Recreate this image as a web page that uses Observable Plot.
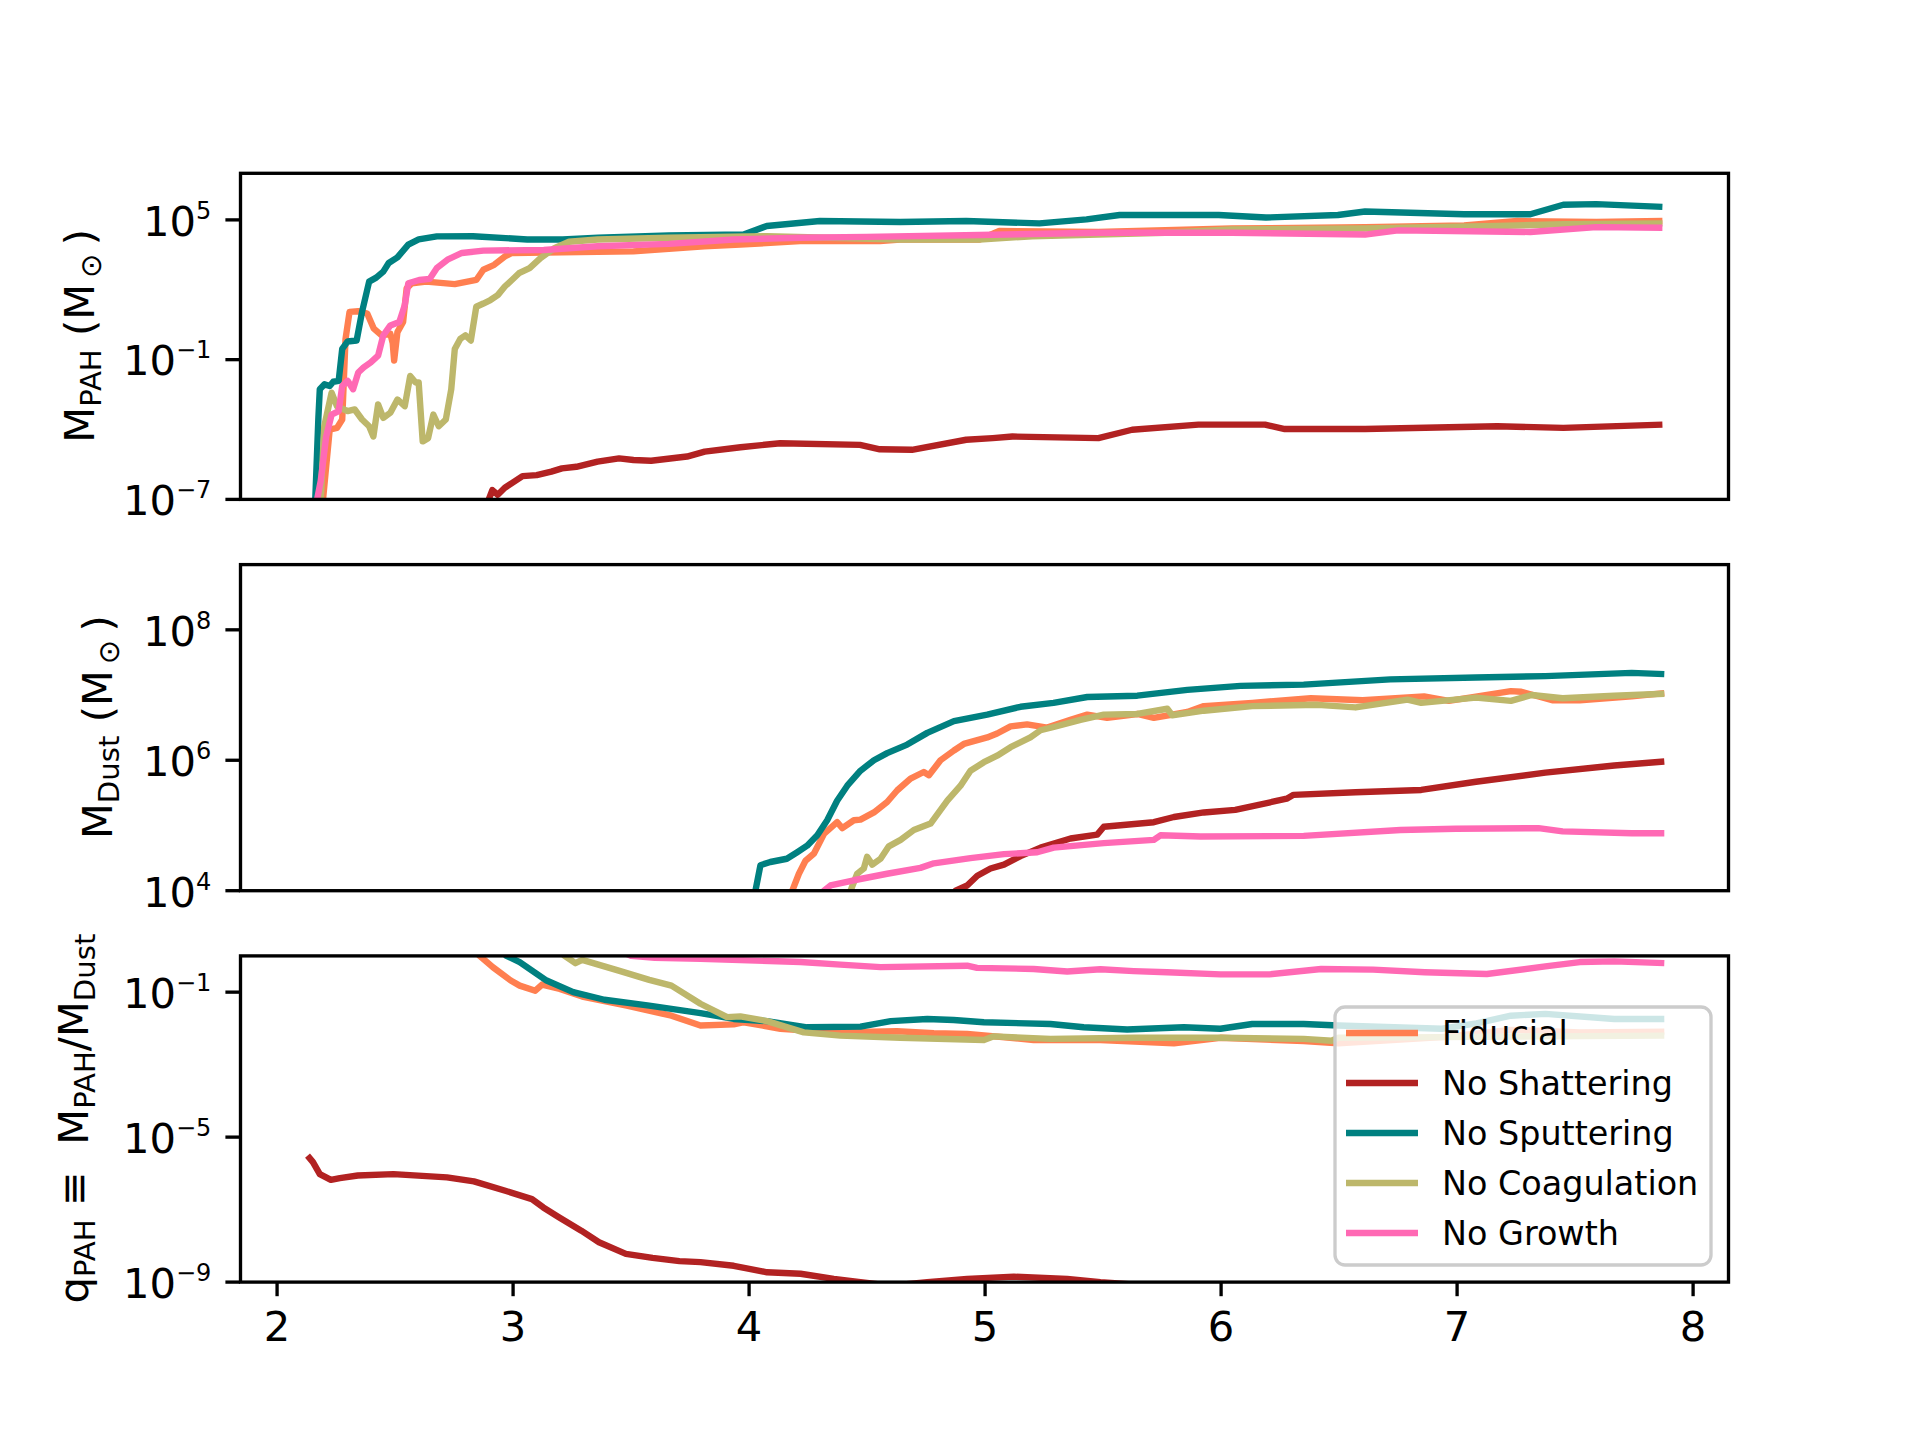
<!DOCTYPE html>
<html>
<head>
<meta charset="utf-8">
<script src="https://cdn.jsdelivr.net/npm/d3@7"></script>
<script src="https://cdn.jsdelivr.net/npm/@observablehq/plot@0.6"></script>
<style>
  html, body { margin: 0; padding: 0; background: white; }
  #chart { position: relative; width: 1920px; height: 1440px; background: white; }
  #chart svg { position: absolute; left: 0; top: 0; }
</style>
</head>
<body>
<div id="chart"></div>
<script>
// ---- series metadata ----
const seriesNames = ["Fiducial", "No Shattering", "No Sputtering", "No Coagulation", "No Growth"];
const seriesColors = ["#FF7F50", "#B22222", "#008080", "#BDB76B", "#FF69B4"];

// ---- axis ticks ----
const xTicks = [2, 3, 4, 5, 6, 7, 8];
const pahTicks = [1e-7, 1e-1, 1e5];
const dustTicks = [1e4, 1e6, 1e8];
const qTicks = [1e-9, 1e-5, 1e-1];

// ---- panel 1: log10 M_PAH vs x ----
const pahFiducial = [[2.19,-7.5],[2.223,-4.0],[2.254,-3.93],[2.276,-3.57],[2.29,-0.11],[2.307,1.05],[2.344,1.08],[2.382,0.98],[2.41,0.33],[2.443,0.04],[2.48,0.11],[2.49,-0.3],[2.496,-1.04],[2.51,0.18],[2.534,0.62],[2.549,2.06],[2.571,2.28],[2.632,2.35],[2.753,2.24],[2.844,2.42],[2.874,2.86],[2.92,3.07],[2.965,3.43],[2.995,3.58],[3.207,3.61],[3.51,3.65],[3.81,3.87],[3.963,3.94],[4.216,4.09],[4.554,4.09],[4.64,4.16],[4.976,4.16],[5.06,4.52],[5.48,4.48],[6.045,4.63],[6.61,4.69],[7.03,4.76],[7.255,4.95],[7.59,4.91],[7.87,4.95]];
const pahNoShattering = [[2.89,-7.5],[2.897,-7.0],[2.912,-6.6],[2.935,-6.8],[2.965,-6.5],[2.995,-6.3],[3.04,-6.0],[3.10,-5.96],[3.162,-5.81],[3.207,-5.67],[3.268,-5.6],[3.358,-5.38],[3.449,-5.24],[3.51,-5.31],[3.585,-5.34],[3.737,-5.16],[3.812,-4.95],[3.964,-4.76],[4.132,-4.59],[4.47,-4.66],[4.554,-4.85],[4.69,-4.87],[4.92,-4.44],[5.032,-4.37],[5.116,-4.30],[5.48,-4.37],[5.623,-4.01],[5.904,-3.79],[6.186,-3.79],[6.27,-3.98],[6.61,-3.98],[7.17,-3.86],[7.45,-3.93],[7.87,-3.79]];
const pahNoSputtering = [[2.16,-7.5],[2.175,-3.5],[2.181,-2.27],[2.201,-2.06],[2.223,-2.13],[2.238,-1.95],[2.261,-1.91],[2.276,-0.54],[2.299,-0.22],[2.337,-0.18],[2.36,1.05],[2.39,2.35],[2.42,2.52],[2.45,2.78],[2.473,3.15],[2.51,3.39],[2.556,3.94],[2.60,4.16],[2.677,4.29],[2.83,4.30],[3.06,4.16],[3.21,4.16],[3.36,4.23],[3.66,4.33],[3.977,4.37],[4.075,4.74],[4.30,4.95],[4.64,4.91],[4.92,4.95],[5.23,4.85],[5.43,5.02],[5.57,5.21],[5.99,5.21],[6.19,5.10],[6.495,5.21],[6.61,5.36],[7.03,5.24],[7.31,5.24],[7.45,5.65],[7.59,5.675],[7.87,5.56]];
const pahNoCoagulation = [[2.18,-7.5],[2.185,-7.0],[2.2,-3.86],[2.231,-2.42],[2.254,-3.0],[2.299,-3.21],[2.329,-3.14],[2.36,-3.57],[2.39,-3.86],[2.408,-4.3],[2.428,-2.92],[2.45,-3.5],[2.48,-3.28],[2.51,-2.71],[2.541,-3.0],[2.564,-1.7],[2.587,-1.98],[2.60,-1.98],[2.617,-4.51],[2.64,-4.37],[2.662,-3.36],[2.685,-3.86],[2.715,-3.57],[2.738,-2.27],[2.753,-0.54],[2.776,-0.11],[2.798,0.04],[2.821,-0.18],[2.844,1.27],[2.874,1.41],[2.904,1.56],[2.935,1.77],[2.965,2.14],[2.995,2.42],[3.025,2.71],[3.07,2.93],[3.116,3.36],[3.177,3.80],[3.237,4.06],[3.358,4.16],[3.66,4.23],[4.075,4.30],[4.64,4.16],[4.976,4.16],[5.2,4.30],[5.764,4.45],[6.045,4.59],[6.61,4.63],[7.17,4.74],[7.45,4.81],[7.87,4.85]];
const pahNoGrowth = [[2.16,-7.5],[2.185,-6.2],[2.208,-4.3],[2.231,-3.36],[2.261,-3.21],[2.276,-2.13],[2.299,-1.91],[2.322,-2.27],[2.344,-1.55],[2.367,-1.33],[2.397,-1.12],[2.428,-0.83],[2.45,0.04],[2.48,0.47],[2.518,0.62],[2.541,1.34],[2.556,2.28],[2.602,2.42],[2.647,2.47],[2.677,2.93],[2.722,3.29],[2.783,3.58],[2.874,3.68],[3.13,3.71],[3.358,3.87],[3.66,3.97],[3.935,4.16],[4.216,4.23],[4.497,4.27],[4.976,4.35],[5.48,4.45],[6.045,4.45],[6.61,4.37],[6.75,4.55],[7.31,4.48],[7.59,4.69],[7.87,4.66]];

// ---- panel 2: log10 M_Dust vs x ----
const dustFiducial = [[4.17,3.5],[4.183,4.0],[4.211,4.26],[4.239,4.46],[4.275,4.57],[4.317,4.87],[4.373,5.05],[4.395,4.96],[4.444,5.08],[4.472,5.09],[4.529,5.20],[4.585,5.36],[4.628,5.54],[4.684,5.72],[4.74,5.82],[4.762,5.77],[4.811,6.0],[4.868,6.15],[4.91,6.25],[5.009,6.35],[5.051,6.41],[5.108,6.52],[5.178,6.55],[5.263,6.50],[5.362,6.62],[5.433,6.70],[5.517,6.65],[5.645,6.71],[5.715,6.65],[5.857,6.74],[5.927,6.83],[6.132,6.88],[6.38,6.95],[6.6,6.92],[6.86,6.98],[6.965,6.91],[7.228,7.06],[7.272,7.05],[7.403,6.92],[7.52,6.92],[7.74,6.98],[7.878,7.03]];
const dustNoShattering = [[4.86,3.5],[4.875,4.0],[4.924,4.08],[4.967,4.23],[5.023,4.34],[5.08,4.40],[5.15,4.53],[5.235,4.66],[5.362,4.80],[5.475,4.86],[5.503,4.98],[5.715,5.05],[5.8,5.13],[5.927,5.20],[6.06,5.24],[6.278,5.41],[6.307,5.47],[6.57,5.51],[6.848,5.545],[7.08,5.67],[7.374,5.81],[7.666,5.92],[7.878,5.98]];
const dustNoSputtering = [[4.02,3.0],[4.027,4.0],[4.048,4.39],[4.09,4.44],[4.16,4.49],[4.204,4.59],[4.246,4.69],[4.289,4.85],[4.331,5.08],[4.373,5.38],[4.416,5.61],[4.472,5.84],[4.529,6.0],[4.585,6.11],[4.67,6.24],[4.755,6.42],[4.868,6.60],[5.009,6.70],[5.15,6.82],[5.29,6.88],[5.433,6.97],[5.645,6.99],[5.857,7.08],[6.082,7.14],[6.35,7.16],[6.717,7.24],[7.08,7.27],[7.374,7.29],[7.74,7.34],[7.878,7.32]];
const dustNoCoagulation = [[4.42,3.5],[4.43,4.0],[4.458,4.26],[4.486,4.34],[4.5,4.52],[4.522,4.40],[4.557,4.49],[4.592,4.68],[4.642,4.78],[4.698,4.93],[4.769,5.03],[4.84,5.38],[4.896,5.61],[4.938,5.84],[4.995,5.97],[5.051,6.07],[5.108,6.20],[5.192,6.35],[5.235,6.46],[5.291,6.51],[5.404,6.62],[5.503,6.70],[5.645,6.71],[5.772,6.79],[5.793,6.69],[5.927,6.76],[6.132,6.83],[6.41,6.85],[6.57,6.81],[6.79,6.93],[6.848,6.88],[7.08,6.96],[7.228,6.91],[7.316,7.0],[7.447,6.95],[7.666,6.99],[7.878,7.02]];
const dustNoGrowth = [[4.30,3.5],[4.317,4.0],[4.345,4.08],[4.444,4.16],[4.585,4.26],[4.726,4.35],[4.783,4.42],[4.938,4.50],[5.08,4.56],[5.221,4.59],[5.291,4.66],[5.503,4.73],[5.715,4.78],[5.743,4.85],[5.913,4.83],[6.35,4.84],[6.76,4.93],[6.994,4.95],[7.345,4.96],[7.447,4.91],[7.74,4.88],[7.878,4.88]];

// ---- panel 3: log10 q_PAH vs x ----
const qFiducial = [[2.80,0.5],[2.857,0.01],[2.914,-0.31],[2.99,-0.68],[3.028,-0.82],[3.094,-0.96],[3.123,-0.79],[3.198,-0.91],[3.293,-1.12],[3.482,-1.37],[3.671,-1.65],[3.794,-1.92],[3.935,-1.89],[3.978,-1.83],[4.133,-2.01],[4.359,-2.11],[4.627,-2.08],[4.783,-2.13],[4.924,-2.15],[5.206,-2.32],[5.489,-2.32],[5.8,-2.41],[5.997,-2.26],[6.35,-2.35],[6.497,-2.41],[6.936,-2.24],[7.228,-2.04],[7.52,-2.11],[7.878,-2.09]];
const qNoShattering = [[2.129,-5.51],[2.152,-5.69],[2.181,-6.02],[2.228,-6.18],[2.266,-6.13],[2.342,-6.06],[2.493,-6.02],[2.72,-6.11],[2.834,-6.22],[2.967,-6.48],[3.08,-6.71],[3.128,-6.94],[3.194,-7.21],[3.289,-7.58],[3.364,-7.90],[3.478,-8.22],[3.591,-8.33],[3.705,-8.42],[3.794,-8.45],[3.935,-8.55],[4.076,-8.73],[4.218,-8.77],[4.359,-8.91],[4.472,-9.0],[4.6,-9.1],[4.755,-9.0],[4.924,-8.91],[5.122,-8.85],[5.348,-8.91],[5.489,-9.0],[5.7,-9.1],[6.0,-9.1],[7.0,-9.6],[7.87,-9.8]];
const qNoSputtering = [[2.92,0.5],[2.97,0.01],[3.028,-0.17],[3.142,-0.68],[3.255,-1.0],[3.387,-1.21],[3.577,-1.37],[3.794,-1.58],[3.935,-1.74],[4.076,-1.80],[4.246,-1.97],[4.472,-1.95],[4.6,-1.80],[4.755,-1.74],[4.867,-1.77],[4.995,-1.83],[5.277,-1.88],[5.418,-1.97],[5.602,-2.03],[5.842,-1.97],[5.997,-2.01],[6.132,-1.88],[6.35,-1.88],[6.497,-1.92],[6.936,-2.01],[7.082,-1.86],[7.228,-1.65],[7.374,-1.6],[7.666,-1.74],[7.878,-1.74]];
const qNoCoagulation = [[3.15,0.5],[3.217,0.01],[3.264,-0.2],[3.293,-0.11],[3.444,-0.40],[3.577,-0.66],[3.671,-0.82],[3.794,-1.32],[3.907,-1.69],[3.963,-1.67],[4.076,-1.80],[4.232,-2.11],[4.387,-2.2],[4.641,-2.26],[4.995,-2.32],[5.037,-2.22],[5.277,-2.29],[5.63,-2.26],[5.997,-2.26],[6.35,-2.29],[6.468,-2.34],[6.497,-2.26],[6.936,-2.24],[7.374,-2.22],[7.878,-2.2]];
const qNoGrowth = [[3.40,0.3],[3.50,0.0],[3.60,-0.05],[3.794,-0.08],[4.218,-0.17],[4.387,-0.24],[4.557,-0.31],[4.924,-0.27],[4.966,-0.33],[5.206,-0.36],[5.348,-0.43],[5.489,-0.37],[5.63,-0.42],[5.771,-0.45],[5.997,-0.51],[6.205,-0.51],[6.424,-0.36],[6.644,-0.38],[6.863,-0.45],[7.126,-0.50],[7.374,-0.29],[7.52,-0.17],[7.666,-0.15],[7.878,-0.2]];

// ---- build tables ----
const toRows = (arr, i) => arr.map(([x, e]) => ({x, y: Math.pow(10, e), series: seriesNames[i]}));
const panels = [
  {series: [pahFiducial, pahNoShattering, pahNoSputtering, pahNoCoagulation, pahNoGrowth], domain: [1e-7, 1e7], ticks: pahTicks, top: 172.8, bottom: 498.9,
   label: [["M"], ["PAH", 1], [" (M"], ["\u2009\u2299", 1], ["\u2009)"]], labelX: 94},
  {series: [dustFiducial, dustNoShattering, dustNoSputtering, dustNoCoagulation, dustNoGrowth], domain: [1e4, 1e9], ticks: dustTicks, top: 564.1, bottom: 890.2,
   label: [["M"], ["Dust", 1], [" (M"], ["\u2009\u2299", 1], ["\u2009)"]], labelX: 112},
  {series: [qFiducial, qNoShattering, qNoSputtering, qNoCoagulation, qNoGrowth], domain: [1e-9, 1], ticks: qTicks, top: 955.4, bottom: 1281.6,
   label: [["q"], ["PAH", 1], [" \u2261  M"], ["PAH", 1], ["/M"], ["Dust", 1]], labelX: 88}
];

const W = 1920, H = 1440, ML = 240, MR = 192;
const FS = 41.67, TICK = 14.6, LW = 3.33, LINEW = 6.4;
const chart = document.getElementById("chart");

panels.forEach((p, pi) => {
  const last = pi === panels.length - 1;
  const lineMarks = p.series.map((arr, i) => Plot.line(toRows(arr, i), {
    x: "x", y: "y", stroke: seriesColors[i], strokeWidth: LINEW,
    strokeLinejoin: "round", strokeLinecap: "butt", clip: true
  }));
  const marks = [
    ...lineMarks,
    Plot.frame({stroke: "black", strokeWidth: LW}),
    Plot.axisY({ticks: p.ticks, tickSize: TICK, tickPadding: TICK, strokeWidth: LW, fontSize: FS, label: null,
      tickFormat: d => "10^" + Math.round(Math.log10(d))})
  ];
  if (last) marks.push(Plot.axisX({ticks: xTicks, tickSize: TICK, tickPadding: TICK, strokeWidth: LW, fontSize: FS, label: null,
      tickFormat: d => String(d)}));
  const svg = Plot.plot({
    width: W, height: H,
    marginLeft: ML, marginRight: MR, marginTop: p.top, marginBottom: H - p.bottom,
    x: {domain: [1.845, 8.15], axis: null},
    y: {type: "log", domain: p.domain, axis: null},
    style: {fontFamily: "DejaVu Sans", fontSize: FS + "px", color: "black", background: "transparent", overflow: "visible"},
    marks
  });
  // superscript exponents on log tick labels
  d3.select(svg).selectAll('g[aria-label="y-axis tick label"] text').each(function () {
    const m = /^10\^(-?\d+)$/.exec(this.textContent);
    if (!m) return;
    const e = m[1].replace("-", "\u2212");
    const s = d3.select(this);
    s.text(null).attr("y", "0.38em");
    s.append("tspan").text("10");
    s.append("tspan").attr("dy", -17).attr("font-size", 24).text(e);
  });
  // rotated y label with subscripts
  const cy = (p.top + p.bottom) / 2;
  const t = d3.select(svg).append("text")
    .attr("transform", `translate(${p.labelX},${cy}) rotate(-90)`)
    .attr("text-anchor", "middle").attr("font-family", "DejaVu Sans")
    .attr("font-size", FS).attr("fill", "black").style("white-space", "pre");
  let shift = 0;
  p.label.forEach(([str, sub]) => {
    const target = sub ? 6.5 : 0;
    const ts = t.append("tspan").attr("dy", target - shift).text(str);
    if (sub) ts.attr("font-size", 29.2);
    shift = target;
  });
  // legend on last panel
  if (last) {
    const g = d3.select(svg).append("g");
    g.append("rect").attr("x", 1335).attr("y", 1007).attr("width", 376).attr("height", 258)
      .attr("rx", 10).attr("fill", "white").attr("fill-opacity", 0.8)
      .attr("stroke", "#cccccc").attr("stroke-width", LW);
    seriesNames.forEach((name, i) => {
      const y = 1033 + 50 * i;
      g.append("line").attr("x1", 1346).attr("x2", 1418).attr("y1", y).attr("y2", y)
        .attr("stroke", seriesColors[i]).attr("stroke-width", LINEW);
      g.append("text").attr("x", 1442).attr("y", y + 12).attr("font-size", 33.4)
        .attr("text-anchor", "start")
        .attr("font-family", "DejaVu Sans").attr("fill", "black").text(name);
    });
  }
  chart.appendChild(svg);
});
</script>
</body>
</html>
